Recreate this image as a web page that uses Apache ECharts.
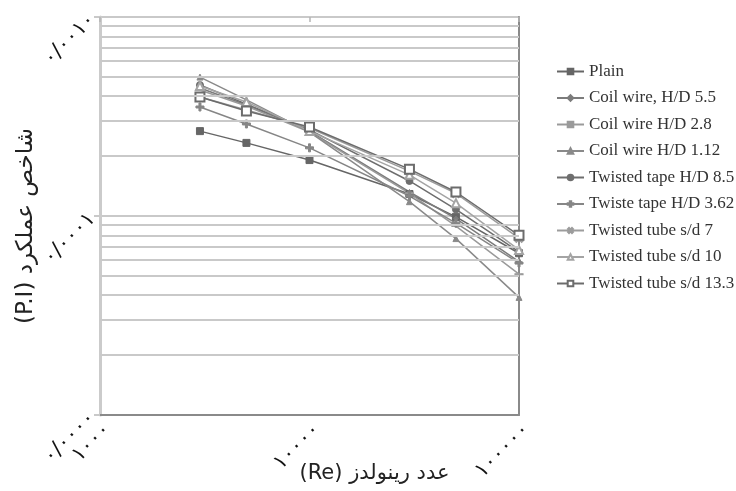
<!DOCTYPE html>
<html><head><meta charset="utf-8">
<script src="https://cdn.jsdelivr.net/npm/echarts@6/dist/echarts.min.js"></script>
<style>html,body{margin:0;padding:0;background:#fff}#c{width:736px;height:491px}</style>
</head><body><div id="c"></div>
<script>
// Reynolds numbers (x)
const reValues = [3000, 5000, 10000, 30000, 50000, 100000];
// Performance index (P.I) per series
const plain      = [2.67e-4, 2.33e-4, 1.91e-4, 1.29e-4, 9.9e-5, 6.5e-5];
const coil55     = [4.40e-4, 3.61e-4, 2.67e-4, 1.32e-4, 9.7e-5, 5.9e-5];
const coil28     = [4.30e-4, 3.57e-4, 2.64e-4, 1.30e-4, 8.9e-5, 5.1e-5];
const coil112    = [4.99e-4, 3.83e-4, 2.64e-4, 1.18e-4, 7.7e-5, 3.9e-5];
const tape85     = [4.55e-4, 3.65e-4, 2.71e-4, 1.50e-4, 1.08e-4, 6.6e-5];
const tape362    = [3.53e-4, 2.90e-4, 2.20e-4, 1.26e-4, 9.2e-5, 5.8e-5];
const tube7      = [3.96e-4, 3.41e-4, 2.77e-4, 1.68e-4, 1.30e-4, 7.75e-5];
const tube10     = [4.50e-4, 3.74e-4, 2.67e-4, 1.61e-4, 1.16e-4, 6.75e-5];
const tube133    = [3.96e-4, 3.37e-4, 2.80e-4, 1.72e-4, 1.32e-4, 8.0e-5];
const seriesNames = ['Plain','Coil wire, H/D 5.5','Coil wire H/D 2.8','Coil wire H/D 1.12','Twisted tape H/D 8.5','Twiste tape H/D 3.62','Twisted tube s/d 7','Twisted tube s/d 10','Twisted tube s/d 13.3'];
// axis range and tick labels (Persian digits)
const xRange = [1000, 100000];
const yRange = [1e-5, 1e-3];
const xTickLabels = {'3':'۱۰۰۰','4':'۱۰۰۰۰','5':'۱۰۰۰۰۰'};
const yTickLabels = {'-5':'۰/۰۰۰۰','-4':'۰/۰۰۰۱','-3':'۰/۰۰۱۰'};
const minorGridValues = [2e-5,3e-5,4e-5,5e-5,6e-5,7e-5,8e-5,9e-5,2e-4,3e-4,4e-4,5e-4,6e-4,7e-4,8e-4,9e-4];
const xTitle = 'عدد رینولدز (Re)';
const yTitle = 'شاخص عملکرد (P.I)';
const RLE = '\u202B', PDF = '\u202C';

const allData = [plain, coil55, coil28, coil112, tape85, tape362, tube7, tube10, tube133];
const plusPath = 'path://M3,0H5V3H8V5H5V8H3V5H0V3H3Z';
const styles = [
  {c:'#666666', s:'rect', z:7},
  {c:'#7c7c7c', s:'diamond', z:5},
  {c:'#9a9a9a', s:'rect', z:[7,1.5]},
  {c:'#8a8a8a', s:'triangle', z:6},
  {c:'#6e6e6e', s:'circle', z:7},
  {c:'#868686', s:plusPath, z:8},
  {c:'#9c9c9c', s:plusPath, z:10, r:45},
  {c:'#a4a4a4', s:'emptyTriangle', z:8},
  {c:'#6c6c6c', s:'emptyRect', z:9}
];
const series = allData.map((d, i) => ({
  name: seriesNames[i], type: 'line',
  data: d.map((v, j) => [reValues[j], v]),
  symbol: styles[i].s, symbolSize: styles[i].z, symbolRotate: styles[i].r || 0,
  lineStyle: {color: styles[i].c, width: 1.5},
  itemStyle: {color: styles[i].c, borderColor: styles[i].c, borderWidth: 1},
  z: 3, animation: false
}));
series[0].markLine = {
  silent: true, symbol: ['none','none'], label: {show: false}, animation: false,
  lineStyle: {color: '#c9c9c9', width: 2, type: 'solid'},
  emphasis: {disabled: true},
  data: minorGridValues.map(v => [{coord: [xRange[0], v]}, {coord: [xRange[1], v]}])
};

const chart = echarts.init(document.getElementById('c'));
chart.setOption({
  backgroundColor: '#fff',
  animation: false,
  grid: {left: 100, right: 217, top: 17, bottom: 76, containLabel: false, outerBoundsMode: 'none'},
  legend: {
    data: seriesNames, orient: 'vertical', left: 551, top: 58,
    itemWidth: 27, itemHeight: 7, itemGap: 9.5,
    textStyle: {fontFamily: 'Liberation Serif', fontSize: 17, color: '#333', lineHeight: 17}
  },
  xAxis: [{
    type: 'log', logBase: 10, min: xRange[0], max: xRange[1],
    name: RLE + xTitle + PDF, nameLocation: 'middle', nameGap: 48, nameMoveOverlap: false,
    nameTextStyle: {fontFamily: 'DejaVu Sans', fontSize: 21, color: '#222', padding: [0,0,0,130]},
    axisLine: {show: true, lineStyle: {color: '#8a8a8a', width: 2}},
    axisTick: {show: false}, splitLine: {show: false},
    axisLabel: {rotate: 45, margin: 4, verticalAlign: 'top', fontFamily: 'DejaVu Sans', fontSize: 21, color: '#111',
      formatter: v => xTickLabels[String(Math.round(Math.log10(v)))] || ''}
  }, {
    type: 'log', logBase: 10, min: xRange[0], max: xRange[1], position: 'top',
    axisLine: {show: false},
    axisTick: {show: true, inside: true, length: 5, lineStyle: {color: '#b5b5b5', width: 1.5}},
    axisLabel: {show: false}, splitLine: {show: false}
  }],
  yAxis: [{
    type: 'log', logBase: 10, min: yRange[0], max: yRange[1],
    name: RLE + yTitle + PDF, nameLocation: 'middle', nameGap: 62, nameRotate: 90, nameMoveOverlap: false,
    nameTextStyle: {fontFamily: 'DejaVu Sans', fontSize: 23, color: '#222', padding: [0,20,0,0]},
    axisLine: {show: true, lineStyle: {color: '#cbcbcb', width: 3}},
    axisTick: {show: true, length: 6, lineStyle: {color: '#c9c9c9', width: 2}},
    splitLine: {show: true, lineStyle: {color: '#c9c9c9', width: 2}},
    axisLabel: {rotate: 45, margin: 8, fontFamily: 'DejaVu Sans', fontSize: 21, color: '#111',
      formatter: v => yTickLabels[String(Math.round(Math.log10(v)))] || ''}
  }, {
    type: 'log', logBase: 10, min: yRange[0], max: yRange[1], position: 'right',
    axisLine: {show: true, lineStyle: {color: '#8a8a8a', width: 2}},
    axisTick: {show: false}, axisLabel: {show: false}, splitLine: {show: false}
  }],
  series: series
});
</script></body></html>
